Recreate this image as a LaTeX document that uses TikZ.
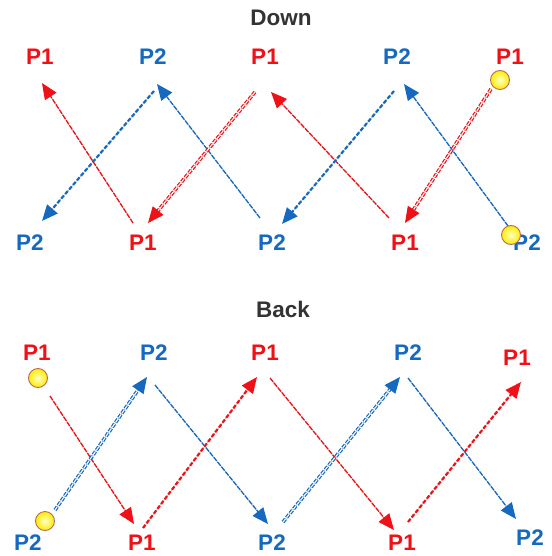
\documentclass[tikz,border=0pt]{standalone}
\usepackage{fontspec}
\setmainfont{Liberation Sans}
\usetikzlibrary{arrows.meta,shadows}
\definecolor{pred}{HTML}{F01018}
\definecolor{pblue}{HTML}{1669BE}
\definecolor{ttl}{HTML}{333333}
\definecolor{ballrim}{HTML}{B86A5A}
\tikzset{
  lbl/.style={font=\fontsize{22.5}{22.5}\selectfont\bfseries, inner sep=0pt},
  p1/.style={lbl, text=pred},
  p2/.style={lbl, text=pblue},
  ttlnode/.style={font=\fontsize{22.5}{22.5}\selectfont\bfseries, text=ttl, inner sep=0pt},
  tip/.style={-{Triangle[length=16pt,width=13.5pt]}},
  shade/.style={preaction={draw=black!35, shift={(0.8pt,0.8pt)}, -{Triangle[length=16pt,width=13.5pt]}}},
  fine/.style={tip, line width=1.3pt, dash pattern=on 5pt off 1.2pt, shade},
  bold/.style={tip, line width=2.2pt, dash pattern=on 4pt off 2pt, shade},
  dbl/.style={tip, line width=1.2pt, double=white, double distance=1.1pt, dash pattern=on 4pt off 1.6pt, shade},
  ball/.style={circle, minimum size=19pt, inner sep=0pt, draw=ballrim, line width=0.9pt,
    inner color=yellow!20, outer color=yellow!85!orange},
}
\begin{document}
\begin{tikzpicture}[x=1pt, y=-1pt]
\useasboundingbox (0,0) rectangle (551,556);
\fill[white] (0,0) rectangle (551,556);

% ---------- Down ----------
\node[ttlnode] (tdown) at (281,18) {Down};
\node[p1] (d1) at (40,57) {P1};
\node[p2] (d2) at (153,57) {P2};
\node[p1] (d3) at (265,57) {P1};
\node[p2] (d4) at (397,57) {P2};
\node[p1] (d5) at (510,57) {P1};
\node[p2] (e1) at (30,243) {P2};
\node[p1] (e2) at (143,243) {P1};
\node[p2] (e3) at (272,243) {P2};
\node[p1] (e4) at (405,243) {P1};
\node[p2] (e5) at (527,243) {P2};

\coordinate (a1s) at (133,223); \coordinate (a1e) at (42,83);
\coordinate (a2s) at (154,91);  \coordinate (a2e) at (42,221);
\coordinate (a3s) at (260,218); \coordinate (a3e) at (157,84);
\coordinate (a4s) at (255,92);  \coordinate (a4e) at (148,223);
\coordinate (a5s) at (389,218); \coordinate (a5e) at (271,92);
\coordinate (a6s) at (394,91);  \coordinate (a6e) at (282,224);
\coordinate (a7s) at (508,226); \coordinate (a7e) at (404,84);
\coordinate (a8s) at (491,89);  \coordinate (a8e) at (405,223);

\draw[fine, pred]  (a1s) -- (a1e);
\draw[bold, pblue] (a2s) -- (a2e);
\draw[fine, pblue] (a3s) -- (a3e);
\draw[dbl, pred]   (a4s) -- (a4e);
\draw[fine, pred]  (a5s) -- (a5e);
\draw[bold, pblue] (a6s) -- (a6e);
\draw[fine, pblue] (a7s) -- (a7e);
\draw[dbl, pred]   (a8s) -- (a8e);

\node[ball] (bd1) at (500,80) {};
\node[ball] (bd2) at (511,235) {};

% ---------- Back ----------
\node[ttlnode] (tback) at (283,309) {Back};
\node[p1] (b1) at (37,353) {P1};
\node[p2] (b2) at (154,353) {P2};
\node[p1] (b3) at (265,353) {P1};
\node[p2] (b4) at (408,353) {P2};
\node[p1] (b5) at (517,358) {P1};
\node[p2] (c1) at (28,543) {P2};
\node[p1] (c2) at (142,543) {P1};
\node[p2] (c3) at (272,543) {P2};
\node[p1] (c4) at (402,543) {P1};
\node[p2] (c5) at (530,538) {P2};

\coordinate (k1s) at (50,396);  \coordinate (k1e) at (134,524);
\coordinate (k2s) at (55,510);  \coordinate (k2e) at (147,377);
\coordinate (k3s) at (155,385); \coordinate (k3e) at (268,524);
\coordinate (k4s) at (143,528); \coordinate (k4e) at (257,377);
\coordinate (k5s) at (270,378); \coordinate (k5e) at (394,530);
\coordinate (k6s) at (283,522); \coordinate (k6e) at (400,377);
\coordinate (k7s) at (408,378); \coordinate (k7e) at (516,519);
\coordinate (k8s) at (408,522); \coordinate (k8e) at (521,382);

\draw[fine, pred]  (k1s) -- (k1e);
\draw[dbl, pblue]  (k2s) -- (k2e);
\draw[fine, pblue] (k3s) -- (k3e);
\draw[bold, pred]  (k4s) -- (k4e);
\draw[fine, pred]  (k5s) -- (k5e);
\draw[dbl, pblue]  (k6s) -- (k6e);
\draw[fine, pblue] (k7s) -- (k7e);
\draw[bold, pred]  (k8s) -- (k8e);

\node[ball] (bb1) at (38,378) {};
\node[ball] (bb2) at (45,521) {};
\end{tikzpicture}
\end{document}
